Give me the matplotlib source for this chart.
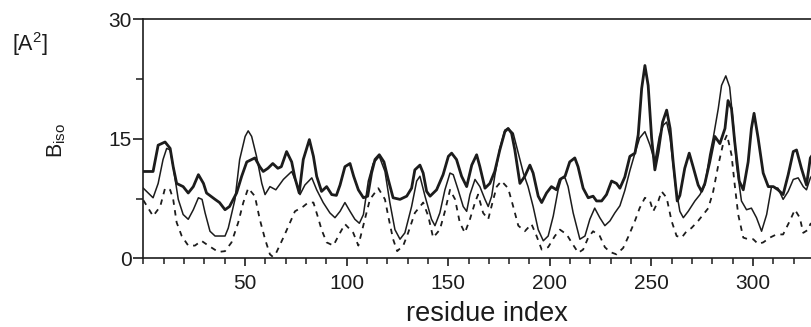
import matplotlib
matplotlib.use("Agg")
import matplotlib.pyplot as plt
from matplotlib.ticker import MultipleLocator, FixedLocator

plt.rcParams["font.family"] = ["Liberation Sans", "DejaVu Sans"]
plt.rcParams["mathtext.fontset"] = "custom"
plt.rcParams["mathtext.rm"] = "Liberation Sans"
plt.rcParams["mathtext.it"] = "Liberation Sans:italic"

# thick solid curve (residue, B)
thick_res = [0, 4.8, 7.3, 10.7, 13.2, 14.7, 16.4, 19.6, 22.1, 24.6, 27.1, 29.6, 31.1, 35.3,
             37.5, 40.2, 42.4, 45.9, 48.4, 50.9, 54.9, 57.3, 59.0, 61.3, 63.7, 66.2, 67.9,
             70.5, 73.0, 74.6, 76.7, 78.7, 81.7, 83.7, 85.3, 87.7, 90.2, 92.7, 95.0, 96.8,
             99.2, 101.7, 103.5, 105.8, 108.3, 110.4, 112.3, 114.0, 116.1, 118.4, 120.5,
             122.9, 126.3, 129.6, 132.0, 133.6, 136.1, 137.7, 139.4, 141.1, 144.3, 147.5,
             150.1, 151.7, 154.1, 156.6, 159.1, 161.6, 164.0, 165.6, 168.1, 170.5, 172.9,
             175.4, 177.9, 179.5, 181.2, 182.8, 185.3, 187.7, 190.2, 191.8, 194.3, 196.0,
             198.4, 200.8, 203.3, 205.0, 207.5, 209.8, 212.3, 213.9, 216.4, 218.9, 221.3,
             223.0, 225.5, 227.9, 230.4, 232.8, 234.5, 236.9, 239.4, 241.9, 243.5, 245.2,
             246.8, 248.4, 250.1, 251.7, 253.4, 255.5, 257.5, 259.2, 260.7, 262.7, 264.0,
             266.4, 268.6, 270.5, 273.0, 274.7, 276.3, 278.7, 281.2, 283.7, 286.2, 287.7,
             289.4, 291.0, 293.2, 295.2, 297.6, 299.2, 300.5, 302.5, 305.0, 307.5, 310.0,
             312.3, 314.8, 317.3, 319.8, 321.4, 323.8, 326.3, 328.2, 332.0]
thick_b = [10.9, 10.9, 14.2, 14.6, 13.8, 11.5, 9.4, 9.0, 8.2, 9.0, 10.5, 9.4, 8.2, 7.4,
           7.0, 6.1, 6.5, 8.2, 10.3, 12.1, 12.6, 11.5, 10.9, 11.3, 11.9, 11.3, 11.5,
           13.4, 12.1, 10.1, 8.2, 12.4, 14.9, 12.8, 10.3, 8.4, 9.0, 8.0, 7.9, 9.2,
           11.5, 11.9, 10.3, 8.6, 7.6, 7.8, 10.7, 12.4, 13.0, 12.1, 9.9,
           7.6, 7.4, 7.8, 8.8, 11.1, 11.7, 10.7, 8.4, 7.8, 8.6, 10.5,
           12.8, 13.2, 12.4, 10.3, 9.0, 11.7, 13.0, 11.5, 8.8, 9.4, 10.9,
           13.6, 15.9, 16.3, 15.7, 13.6, 9.4, 10.3, 11.7, 10.7, 7.8, 7.0,
           8.2, 9.0, 8.6, 9.9, 10.3, 12.1, 12.6, 11.5, 8.8, 7.6, 7.8,
           7.2, 7.2, 8.0, 9.7, 9.4, 8.8, 10.2, 12.8, 13.2, 15.5, 21.3,
           24.2, 21.7, 15.1, 11.1, 13.4, 17.1, 18.6, 16.3, 12.1, 7.2, 7.9,
           11.3, 13.2, 11.5, 9.2, 8.4, 9.4, 12.1, 15.3, 14.4, 16.3, 19.8,
           18.8, 14.6, 9.7, 8.6, 12.1, 16.3, 18.2, 15.1, 10.7, 9.0, 9.0,
           8.6, 8.0, 10.5, 13.4, 13.6, 11.3, 9.2, 12.6, 14.0]

# thin solid curve
thin_res = [0, 4.8, 7.3, 9.7, 11.5, 13.2, 14.7, 17.2, 19.6, 22.1, 24.6, 27.1, 28.9, 30.4,
            32.8, 35.3, 40.2, 41.8, 45.1, 47.4, 50.1, 51.6, 53.3, 55.7, 58.3, 59.9, 62.3,
            65.2, 68.9, 73.0, 75.4, 77.1, 79.5, 82.9, 85.3, 88.5, 91.8, 94.3, 96.8, 99.2,
            101.7, 104.1, 106.3, 108.3, 110.7, 113.1, 116.1, 118.9, 121.3, 123.8, 126.3,
            128.7, 132.0, 134.5, 136.1, 138.6, 141.8, 143.5, 145.9, 148.4, 150.9, 152.5,
            154.9, 157.4, 159.1, 160.7, 163.2, 165.6, 168.1, 169.7, 171.4, 172.9, 175.4,
            177.9, 179.5, 182.0, 184.5, 187.0, 189.3, 191.8, 194.3, 196.8, 199.2, 201.7,
            204.1, 205.8, 207.5, 209.0, 211.5, 214.8, 217.3, 219.7, 222.1, 224.6, 227.1,
            229.6, 232.0, 234.5, 236.9, 239.4, 241.9, 244.2, 246.8, 249.3, 251.7, 253.9,
            255.8, 257.5, 259.2, 261.8, 264.0, 265.7, 268.1, 271.4, 273.9, 276.3, 278.7,
            280.4, 282.9, 284.5, 286.6, 288.5, 290.2, 291.9, 294.3, 296.8, 299.2, 301.7,
            304.2, 306.7, 309.1, 312.3, 314.8, 317.3, 319.8, 322.2, 324.7, 326.3, 328.2,
            332.0]
thin_b = [8.8, 7.6, 9.4, 12.4, 13.8, 13.6, 11.5, 7.4, 5.5, 4.9, 6.1, 7.6, 7.4, 5.7,
          3.4, 2.8, 2.8, 3.8, 7.4, 12.4, 15.3, 16.0, 15.3, 12.8, 9.4, 8.0, 9.0,
          8.6, 9.9, 10.9, 9.4, 8.0, 9.2, 10.1, 8.6, 7.0, 5.7, 5.1, 5.9, 7.0,
          5.9, 4.9, 4.4, 5.5, 9.7, 11.9, 12.8, 10.9, 7.0, 3.6, 2.4,
          3.2, 6.5, 9.7, 10.3, 7.8, 4.9, 4.1, 5.7, 8.6, 10.7, 10.5,
          8.6, 6.5, 5.9, 8.0, 9.9, 9.0, 7.4, 6.5, 7.8, 10.3, 13.8,
          16.1, 16.3, 15.7, 13.2, 10.7, 9.0, 6.5, 3.6, 2.2, 2.8, 5.3,
          8.6, 10.1, 10.1, 9.0, 5.7, 2.4, 2.8, 4.9, 6.3, 5.1, 4.1,
          4.7, 5.7, 6.6, 8.5, 11.0, 13.2, 15.1, 15.9, 14.2, 12.1, 15.3,
          16.7, 17.1, 15.1, 9.2, 5.9, 5.1, 5.9, 7.2, 8.0, 9.2, 13.0,
          15.1, 18.8, 21.7, 22.9, 21.5, 17.1, 11.7, 7.2, 6.1, 6.3, 5.1,
          3.4, 5.5, 9.0, 8.8, 7.4, 8.4, 9.9, 10.1, 9.0, 8.6, 10.1,
          11.5]

# dashed curve
dash_res = [0, 4.8, 8.3, 10.7, 13.2, 14.7, 16.4, 18.9, 22.1, 25.4, 28.6, 32.0, 36.9, 40.2,
            43.4, 46.7, 49.2, 51.6, 54.9, 57.3, 59.9, 62.3, 63.7, 65.4, 68.9, 72.2, 74.6,
            78.7, 81.1, 83.7, 86.0, 87.7, 90.2, 93.5, 96.8, 99.2, 103.3, 105.8, 109.0,
            111.5, 115.6, 118.9, 120.5, 122.9, 124.9, 127.9, 130.3, 133.6, 137.7, 140.2,
            142.6, 145.9, 148.4, 150.9, 153.4, 155.7, 158.2, 160.7, 163.2, 164.7, 167.2,
            169.7, 172.2, 173.9, 176.2, 179.5, 182.0, 184.5, 187.7, 191.0, 193.5, 196.0,
            199.2, 202.5, 205.0, 208.3, 210.7, 214.0, 216.4, 218.9, 221.3, 224.6, 227.1,
            229.6, 232.8, 236.1, 238.6, 241.9, 244.2, 246.8, 249.3, 250.9, 253.4, 255.0,
            257.5, 259.9, 262.4, 264.9, 267.3, 269.7, 273.0, 275.5, 278.0, 280.4, 282.9,
            285.3, 287.2, 289.4, 291.0, 292.7, 295.2, 297.6, 300.1, 302.5, 305.0, 308.3,
            311.5, 314.8, 318.1, 320.6, 323.0, 324.7, 327.2, 328.2, 332.0]
dash_b = [7.3, 5.3, 6.5, 8.8, 8.6, 7.4, 4.5, 2.8, 1.6, 1.6, 2.2, 1.6, 0.8, 0.9,
          2.0, 4.5, 7.0, 8.8, 7.8, 4.9, 2.4, 0.5, 0.2, 0.7, 2.6, 4.5, 5.9,
          6.5, 7.0, 7.0, 5.1, 3.6, 2.0, 1.6, 3.2, 4.3, 3.2, 1.6, 4.9,
          7.4, 8.8, 7.4, 5.3, 2.4, 0.9, 1.6, 3.2, 5.7, 7.0, 5.3,
          2.6, 3.6, 5.9, 8.6, 7.4, 4.5, 3.2, 4.9, 7.0, 8.0, 5.7,
          4.9, 7.4, 9.0, 9.7, 8.8, 6.5, 4.1, 3.4, 4.3, 2.8, 1.1,
          1.4, 2.8, 3.6, 3.0, 2.0, 0.7, 1.1, 2.6, 3.4, 2.8, 1.4,
          0.8, 0.5, 1.3, 2.7, 4.7, 6.3, 7.6, 7.2, 5.9, 7.2, 8.4,
          7.6, 4.7, 2.8, 2.6, 3.4, 3.8, 4.7, 5.5, 6.3, 8.4, 11.7,
          14.4, 15.5, 13.0, 9.2, 5.5, 2.6, 2.4, 2.4, 1.8, 2.0, 2.6,
          3.0, 3.0, 4.7, 6.1, 5.1, 3.2, 3.6, 4.3, 5.0]

x_major = [50, 100, 150, 200, 250, 300]
y_major = [0, 15, 30]

fig = plt.figure(figsize=(8.12, 3.27), dpi=100)
ax = fig.add_axes([0.1765, 0.210, 0.851, 0.731])

ink = "#1c1c1c"
ax.plot(dash_res, dash_b, color=ink, lw=1.3, dashes=(3, 3))
ax.plot(thin_res, thin_b, color=ink, lw=1.1)
ax.plot(thick_res, thick_b, color=ink, lw=2.0)

ax.set_xlim(0, 340)
ax.set_ylim(0, 30)
ax.xaxis.set_major_locator(FixedLocator(x_major))
ax.xaxis.set_minor_locator(MultipleLocator(10))
ax.yaxis.set_major_locator(FixedLocator(y_major))
ax.yaxis.set_minor_locator(MultipleLocator(7.5))

for sp in ax.spines.values():
    sp.set_linewidth(1.2)
    sp.set_color(ink)

ax.tick_params(axis="x", which="major", direction="out", length=6, width=1.2,
               pad=5, labelsize=15, colors=ink)
ax.tick_params(axis="x", which="minor", direction="out", length=4.5, width=1.1, colors=ink)
ax.tick_params(axis="y", which="major", direction="out", length=7, width=1.2,
               pad=1.5, labelsize=15, colors=ink)
ax.tick_params(axis="y", which="minor", direction="out", length=5, width=1.1, colors=ink)

ax.set_xlabel("residue index", fontsize=19.5, color=ink, va="baseline")
ax.xaxis.set_label_coords(0.497, -0.262)

fig.text(12 / 812, 1 - 51 / 327, "[A$^2$]", fontsize=15.5, color=ink,
         ha="left", va="baseline")
fig.text(57 / 812, 1 - 140 / 327, r"B$_{\mathrm{iso}}$", fontsize=15.5, color=ink,
         rotation=90, ha="center", va="center")

fig.savefig("out.png", dpi=100)
